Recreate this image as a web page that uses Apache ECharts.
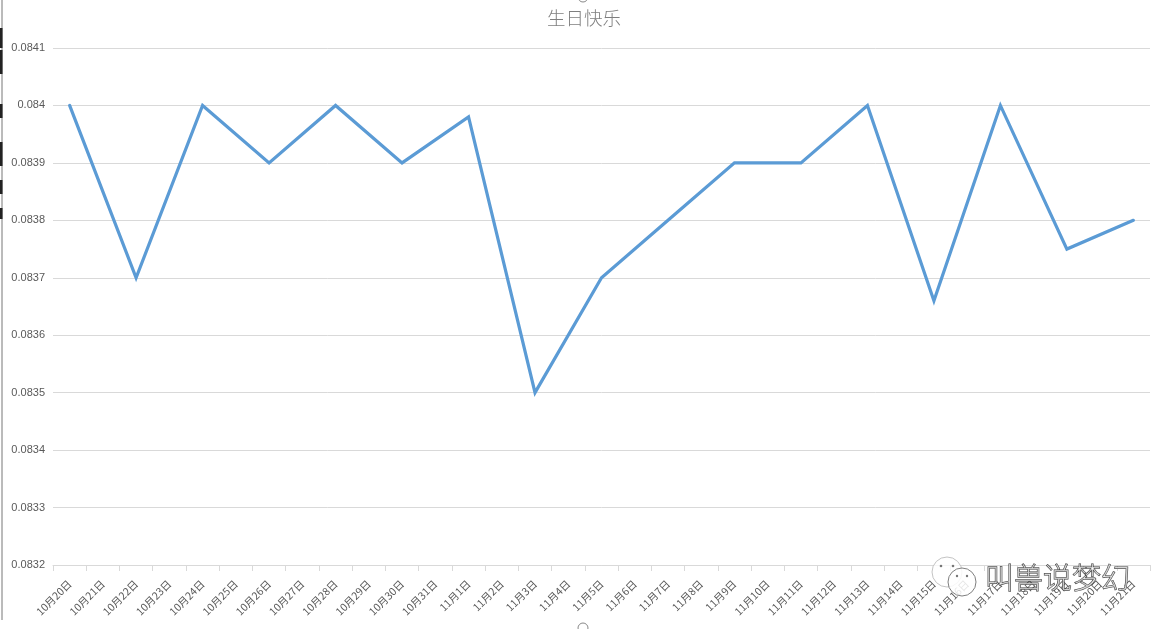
<!DOCTYPE html>
<html>
<head>
<meta charset="utf-8">
<style>html,body{margin:0;padding:0;background:#fff}#c{width:1166px;height:629px}</style>
<script src="https://cdn.jsdelivr.net/npm/echarts@6/dist/echarts.min.js"></script>
</head>
<body>
<div id="c"></div>
<script>
const titleText = '生日快乐';
const categories = ['10月20日','10月21日','10月22日','10月23日','10月24日','10月25日','10月26日','10月27日','10月28日','10月29日','10月30日','10月31日','11月1日','11月2日','11月3日','11月4日','11月5日','11月6日','11月7日','11月8日','11月9日','11月10日','11月11日','11月12日','11月13日','11月14日','11月15日','11月16日','11月17日','11月18日','11月19日','11月20日','11月21日'];
const values = [0.084,null,0.0837,null,0.084,null,0.0839,null,0.084,null,0.0839,null,0.08398,null,0.0835,null,0.0837,null,0.0838,null,0.0839,null,0.0839,null,0.084,null,0.08366,null,0.084,null,0.08375,null,0.0838];
const watermarkText = '叫兽说梦幻';

const chart = echarts.init(document.getElementById('c'));
const cjk = '"Noto Sans CJK SC","Noto Sans",sans-serif';
const edgeMarks = [[28,20],[50,24],[104,14],[142,24],[180,14],[208,11]];
chart.setOption({
  animation: false,
  backgroundColor: '#fff',
  title: {
    text: titleText, left: 579, top: 4, textAlign: 'center',
    textStyle: {fontFamily: cjk, fontSize: 18.5, fontWeight: 300, color: '#7f7f7f'}
  },
  grid: {left: 53, right: 16, top: 48, bottom: 64, containLabel: false},
  xAxis: {
    type: 'category', data: categories, boundaryGap: true,
    axisLine: {lineStyle: {color: '#d9d9d9', width: 1}},
    axisTick: {show: true, length: 6, lineStyle: {color: '#d9d9d9'}},
    axisLabel: {interval: 0, rotate: 45, margin: 17, fontSize: 10.5, fontFamily: cjk, color: '#595959'}
  },
  yAxis: {
    type: 'value', min: 0.0832, max: 0.0841, interval: 0.0001,
    axisLine: {show: false}, axisTick: {show: false},
    splitLine: {lineStyle: {color: '#d9d9d9', width: 1}},
    axisLabel: {margin: 8, fontSize: 11, fontFamily: '"Liberation Sans",sans-serif', color: '#595959',
      formatter: v => String(parseFloat(v.toFixed(4)))}
  },
  series: [{
    type: 'line', data: values, connectNulls: true, symbol: 'none',
    lineStyle: {color: '#5b9bd5', width: 3.2, join: 'miter', cap: 'round'}
  }],
  graphic: [
    {type: 'line', shape: {x1: 2, y1: 0, x2: 2, y2: 620}, style: {stroke: '#777', lineWidth: 1}, z: 40},
    ...edgeMarks.map(m => ({type: 'rect', shape: {x: 0, y: m[0], width: 2.5, height: m[1]}, style: {fill: '#222'}, z: 41})),
    {type: 'circle', shape: {cx: 583, cy: 628, r: 5}, style: {fill: '#fff', stroke: '#888', lineWidth: 1}, z: 40},
    {type: 'circle', shape: {cx: 583, cy: -3, r: 5}, style: {fill: '#fff', stroke: '#888', lineWidth: 1}, z: 40},
    {type: 'circle', shape: {cx: 947, cy: 572, r: 15}, style: {fill: 'rgba(255,255,255,0.75)', stroke: '#c4c4c4', lineWidth: 1}, z: 50},
    {type: 'circle', shape: {cx: 962, cy: 582, r: 14}, style: {fill: 'rgba(255,255,255,0.85)', stroke: '#808080', lineWidth: 1}, z: 51},
    {type: 'circle', shape: {cx: 941, cy: 566, r: 1.3}, style: {fill: '#777'}, z: 52},
    {type: 'circle', shape: {cx: 953, cy: 566, r: 1.3}, style: {fill: '#777'}, z: 52},
    {type: 'circle', shape: {cx: 957, cy: 576, r: 1.2}, style: {fill: '#777'}, z: 52},
    {type: 'circle', shape: {cx: 967, cy: 576, r: 1.2}, style: {fill: '#777'}, z: 52},
    {type: 'text', style: {x: 985, y: 563, text: watermarkText, fontFamily: cjk, fontSize: 29, fontWeight: 300,
      fill: 'rgba(255,255,255,0.6)', stroke: '#333', lineWidth: 1}, z: 52}
  ]
});
</script>
</body>
</html>
